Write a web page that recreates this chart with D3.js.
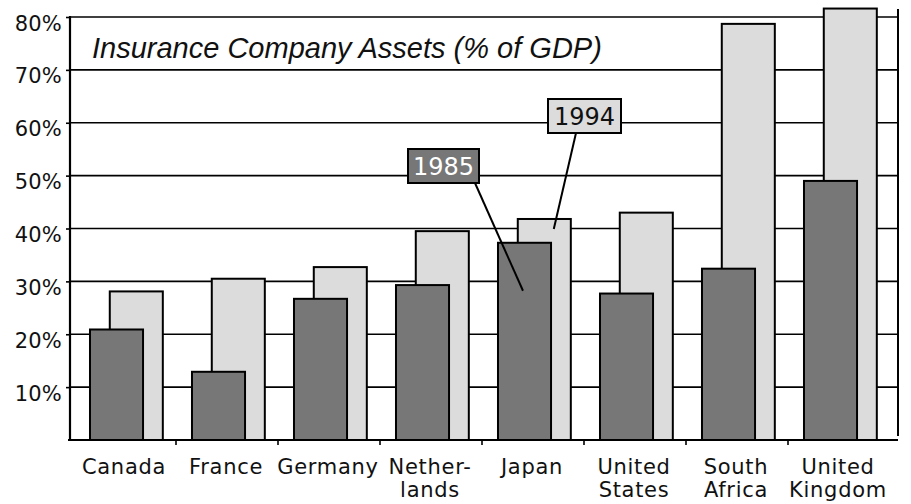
<!DOCTYPE html>
<html>
<head>
<meta charset="utf-8">
<script src="https://cdn.jsdelivr.net/npm/d3@7"></script>
<style>
  body { margin: 0; background: #fff; }
  .lbl { font-family: "DejaVu Sans", Verdana, sans-serif; fill: #111; }
</style>
</head>
<body>
<script>
// data
const countries = ["Canada", "France", "Germany", "Netherlands", "Japan", "United States", "South Africa", "United Kingdom"];
const countryLines = [["Canada"], ["France"], ["Germany"], ["Nether-", "lands"], ["Japan"], ["United", "States"], ["South", "Africa"], ["United", "Kingdom"]];
const assets1985 = [20.9, 12.9, 26.7, 29.3, 37.3, 27.7, 32.4, 49.0];
const assets1994 = [28.1, 30.5, 32.7, 39.5, 41.8, 43.0, 78.7, 81.6];
const yTicks = [10, 20, 30, 40, 50, 60, 70, 80];
const title = "Insurance Company Assets (% of GDP)";

const w = 911, h = 504;
const plotLeft = 70, plotRight = 898, base = 440, plotTop = 17;

const svg = d3.select("body").append("svg")
    .attr("width", w)
    .attr("height", h);

const x = d3.scaleBand()
    .domain(countries)
    .range([plotLeft, 886]);

const y = d3.scaleLinear()
    .domain([0, 80])
    .range([base, plotTop]);

const bw = x.bandwidth();
const barW = bw * 0.52;

// gridlines
svg.append("g")
  .selectAll("line")
  .data(yTicks)
  .join("line")
    .attr("x1", plotLeft).attr("x2", plotRight)
    .attr("y1", d => y(d)).attr("y2", d => y(d))
    .attr("stroke", "#000")
    .attr("stroke-width", 1.6);

// left axis with small outward ticks
const leftAxis = d3.axisLeft(y)
    .tickValues(yTicks)
    .tickSize(4)
    .tickFormat(d => d + "%");

const gy = svg.append("g")
    .attr("transform", "translate(" + plotLeft + ",0)")
    .call(leftAxis);
gy.select(".domain").remove();
gy.selectAll(".tick line").attr("stroke", "#000").attr("stroke-width", 1.6);
gy.selectAll(".tick text")
    .attr("class", "lbl")
    .attr("x", -8)
    .attr("dy", null)
    .attr("y", 13)
    .style("font-size", "21px")
    .style("letter-spacing", "0.2px");

// light bars (1994) behind, dark bars (1985) in front
svg.append("g")
  .selectAll("rect")
  .data(countries)
  .join("rect")
    .attr("x", d => x(d) + bw * 0.39)
    .attr("y", (d, i) => y(assets1994[i]))
    .attr("width", barW)
    .attr("height", (d, i) => base - y(assets1994[i]))
    .attr("fill", "#dcdcdc")
    .attr("stroke", "#000")
    .attr("stroke-width", 2);

svg.append("g")
  .selectAll("rect")
  .data(countries)
  .join("rect")
    .attr("x", d => x(d) + bw * 0.196)
    .attr("y", (d, i) => y(assets1985[i]))
    .attr("width", barW)
    .attr("height", (d, i) => base - y(assets1985[i]))
    .attr("fill", "#777777")
    .attr("stroke", "#000")
    .attr("stroke-width", 2);

// axis frame
svg.append("line")
    .attr("x1", plotLeft).attr("x2", plotLeft)
    .attr("y1", plotTop - 1).attr("y2", base)
    .attr("stroke", "#000").attr("stroke-width", 2.2);
svg.append("line")
    .attr("x1", plotLeft - 2).attr("x2", plotRight)
    .attr("y1", base).attr("y2", base)
    .attr("stroke", "#000").attr("stroke-width", 2.2);
svg.append("line")
    .attr("x1", plotRight).attr("x2", plotRight)
    .attr("y1", 9).attr("y2", base - 4)
    .attr("stroke", "#000").attr("stroke-width", 2);

// bottom ticks between the categories
svg.append("g")
  .selectAll("line")
  .data(countries.slice(1))
  .join("line")
    .attr("x1", d => x(d) + 4).attr("x2", d => x(d) + 4)
    .attr("y1", base).attr("y2", base + 5)
    .attr("stroke", "#000").attr("stroke-width", 1.6);

// category labels
const cl = svg.append("g")
  .selectAll("text")
  .data(countries)
  .join("text")
    .attr("class", "lbl")
    .attr("text-anchor", "middle")
    .attr("x", d => x(d) + bw / 2 + 3)
    .attr("y", 474)
    .style("font-size", "21px")
    .style("letter-spacing", "0.7px");
cl.selectAll("tspan")
  .data((d, i) => countryLines[i])
  .join("tspan")
    .attr("x", function () { return this.parentNode.getAttribute("x"); })
    .attr("dy", (d, i) => i ? 23 : 0)
    .text(d => d);

// title
svg.append("text")
    .attr("x", 92)
    .attr("y", 58)
    .style("font-family", "'Liberation Sans', Arial, sans-serif")
    .style("font-style", "italic")
    .style("font-size", "29px")
    .attr("fill", "#111")
    .text(title);

// callouts pointing at the Japan bars
const jp = x("Japan");
const jpIdx = countries.indexOf("Japan");

svg.append("line")
    .attr("x1", 475).attr("y1", 183)
    .attr("x2", jp + bw * 0.196 + 25).attr("y2", y(assets1985[jpIdx]) + 48)
    .attr("stroke", "#000").attr("stroke-width", 2);
svg.append("line")
    .attr("x1", 576).attr("y1", 133)
    .attr("x2", jp + bw * 0.39 + 36).attr("y2", y(assets1994[jpIdx]) + 10)
    .attr("stroke", "#000").attr("stroke-width", 2);

svg.append("rect")
    .attr("x", 408).attr("y", 149).attr("width", 71).attr("height", 34)
    .attr("fill", "#777777").attr("stroke", "#000").attr("stroke-width", 2);
svg.append("text")
    .attr("class", "lbl")
    .attr("x", 443.5).attr("y", 175)
    .attr("text-anchor", "middle")
    .style("font-size", "24px")
    .style("fill", "#fff")
    .text("1985");

svg.append("rect")
    .attr("x", 548).attr("y", 99).attr("width", 73).attr("height", 34)
    .attr("fill", "#dcdcdc").attr("stroke", "#000").attr("stroke-width", 2);
svg.append("text")
    .attr("class", "lbl")
    .attr("x", 584.5).attr("y", 125)
    .attr("text-anchor", "middle")
    .style("font-size", "24px")
    .style("fill", "#111")
    .text("1994");
</script>
</body>
</html>
